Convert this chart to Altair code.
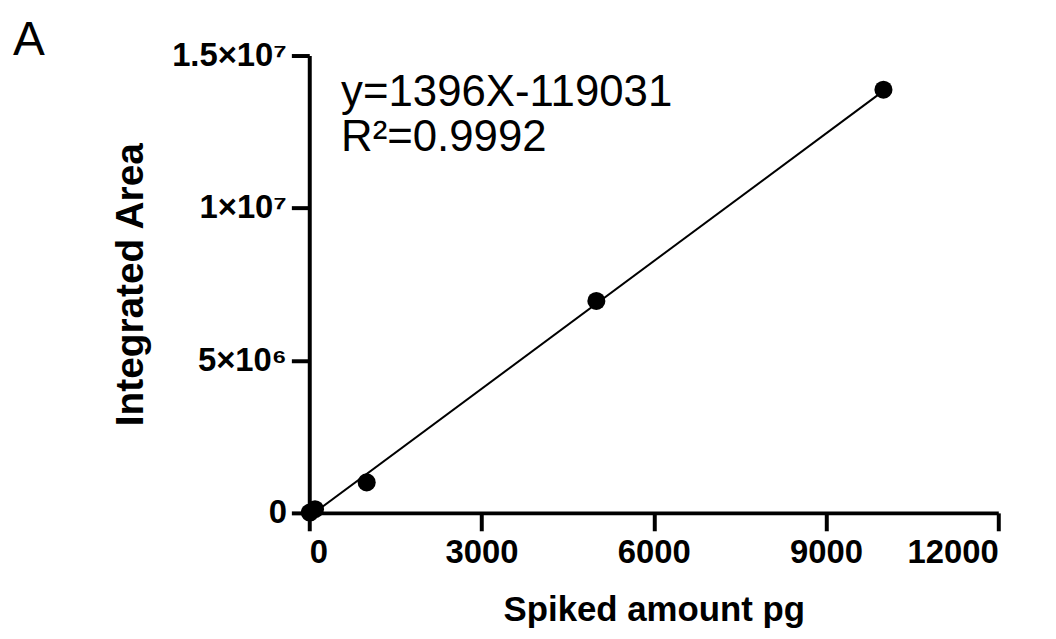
import altair as alt
import pandas as pd

# ---- data ----
amount_pg = [10, 100, 1000, 5000, 10000]
area = [10000, 120000, 1000000, 6950000, 13880000]
slope = 1396
intercept = -119031
r_squared = 0.9992
x_ticks = [0, 3000, 6000, 9000, 12000]
y_ticks = [0, 5000000, 10000000, 15000000]
y_tick_labels = ["0", "5×10⁶", "1×10⁷", "1.5×10⁷"]
eq_lines = [f"y={slope}X{intercept}", f"R²={r_squared}"]

points = pd.DataFrame({"x": amount_pg, "y": area})
fit_x = [-intercept / slope, max(amount_pg)]
fit = pd.DataFrame({"x": fit_x, "y": [slope * v + intercept for v in fit_x]})

FONT = "Liberation Sans"

label_expr = " : ".join(
    f"datum.value == {v} ? '{l}'" for v, l in zip(y_ticks, y_tick_labels)
) + " : ''"

xscale = alt.Scale(domain=[0, 12000], nice=False, zero=False)
yscale = alt.Scale(domain=[0, 15000000], nice=False)

xaxis = alt.Axis(values=x_ticks, format="d", title="Spiked amount pg",
                 titleY=108, titleBaseline="alphabetic", labelPadding=6)
yaxis = alt.Axis(values=y_ticks, labelExpr=label_expr, title="Integrated Area",
                 titleX=-180, titleY=230, titleAngle=270, titleBaseline="middle",
                 titleAlign="center", titleFontSize=39, labelPadding=5)

line = alt.Chart(fit).mark_line(color="black", strokeWidth=2, clip=False).encode(
    x=alt.X("x:Q", scale=xscale, axis=xaxis),
    y=alt.Y("y:Q", scale=yscale, axis=yaxis),
)

dots = alt.Chart(points).mark_circle(color="black", opacity=1, size=330, clip=False).encode(
    x=alt.X("x:Q", scale=xscale),
    y=alt.Y("y:Q", scale=yscale),
)

eq = alt.Chart(pd.DataFrame({"t": [eq_lines[0]]})).mark_text(
    font=FONT, fontSize=44, align="left", baseline="alphabetic", color="black"
).encode(text="t:N", x=alt.value(32), y=alt.value(51))

r2 = alt.Chart(pd.DataFrame({"t": [eq_lines[1]]})).mark_text(
    font=FONT, fontSize=44, align="left", baseline="alphabetic", color="black"
).encode(text="t:N", x=alt.value(32), y=alt.value(96))

panel = alt.Chart(pd.DataFrame({"t": ["A"]})).mark_text(
    font=FONT, fontSize=48, align="left", baseline="alphabetic", color="black"
).encode(text="t:N", x=alt.value(-298), y=alt.value(-1))

chart = alt.layer(line, dots, eq, r2, panel).properties(
    width=693, height=460,
    autosize=alt.AutoSizeParams(type="none"),
    padding={"left": 303, "top": 46, "right": 50, "bottom": 117},
).configure_view(stroke=None).configure_axis(
    grid=False,
    domainColor="black", domainWidth=4,
    tickColor="black", tickWidth=4, tickSize=18,
    labelFont=FONT, labelFontSize=33, labelFontWeight="bold", labelColor="black",
    titleFont=FONT, titleFontSize=35, titleFontWeight="bold", titleColor="black",
)

chart.save("out.html", embed_options={"renderer": "svg", "actions": False})
